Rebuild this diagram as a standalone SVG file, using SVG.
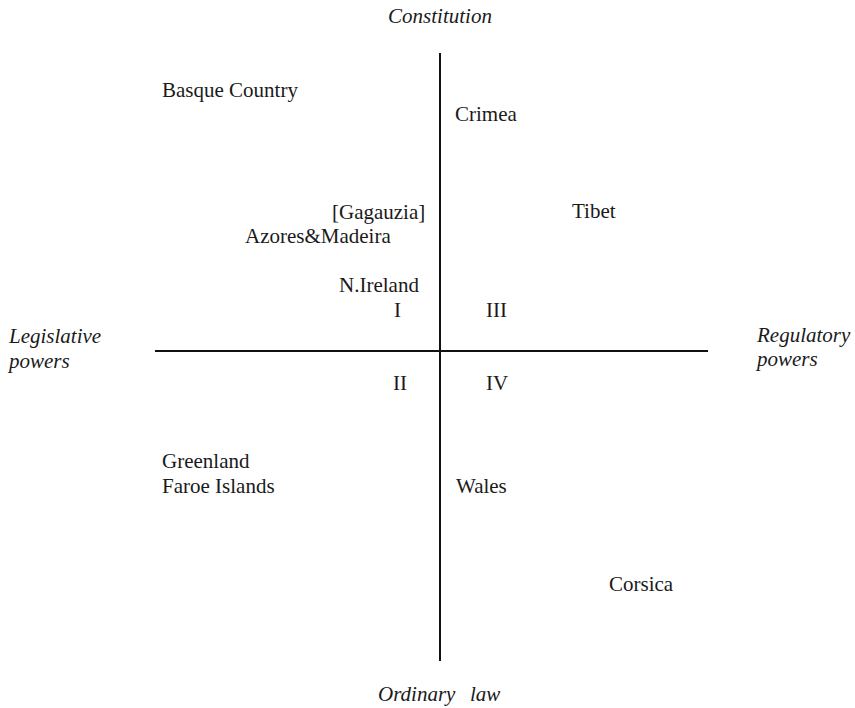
<svg xmlns="http://www.w3.org/2000/svg" width="855" height="708" viewBox="0 0 855 708">
<style>
.l{stroke:#111;stroke-width:2;fill:none}
.t{font-family:'Liberation Serif',serif;font-size:21px;fill:#1a1a1a}
.i{font-style:italic}
</style>
<rect width="855" height="708" fill="#fff"/>
<g id="connectors">
<line class="l" x1="440" y1="53" x2="440" y2="661"/>
<line class="l" x1="155" y1="351" x2="708" y2="351"/>
</g>
<g id="axis-top"><text class="t i" x="440" y="23" text-anchor="middle">Constitution</text></g>
<g id="axis-bottom"><text class="t i" x="378" y="701">Ordinary</text><text class="t i" x="470" y="701">law</text></g>
<g id="axis-left"><text class="t i" x="9" y="343">Legislative</text><text class="t i" x="9" y="368">powers</text></g>
<g id="axis-right"><text class="t i" x="757" y="342">Regulatory</text><text class="t i" x="757" y="366">powers</text></g>
<g id="basque"><text class="t" x="162" y="97">Basque Country</text></g>
<g id="crimea"><text class="t" x="455" y="121">Crimea</text></g>
<g id="gagauzia"><text class="t" x="332" y="219">[Gagauzia]</text></g>
<g id="tibet"><text class="t" x="572" y="218">Tibet</text></g>
<g id="azores"><text class="t" x="245" y="243">Azores&amp;Madeira</text></g>
<g id="nireland"><text class="t" x="339" y="292">N.Ireland</text></g>
<g id="q1"><text class="t" x="394" y="317">I</text></g>
<g id="q3"><text class="t" x="486" y="317">III</text></g>
<g id="q2"><text class="t" x="393" y="390">II</text></g>
<g id="q4"><text class="t" x="486" y="390">IV</text></g>
<g id="greenland"><text class="t" x="162" y="468">Greenland</text><text class="t" x="162" y="493">Faroe Islands</text></g>
<g id="wales"><text class="t" x="456" y="493">Wales</text></g>
<g id="corsica"><text class="t" x="609" y="591">Corsica</text></g>
</svg>
